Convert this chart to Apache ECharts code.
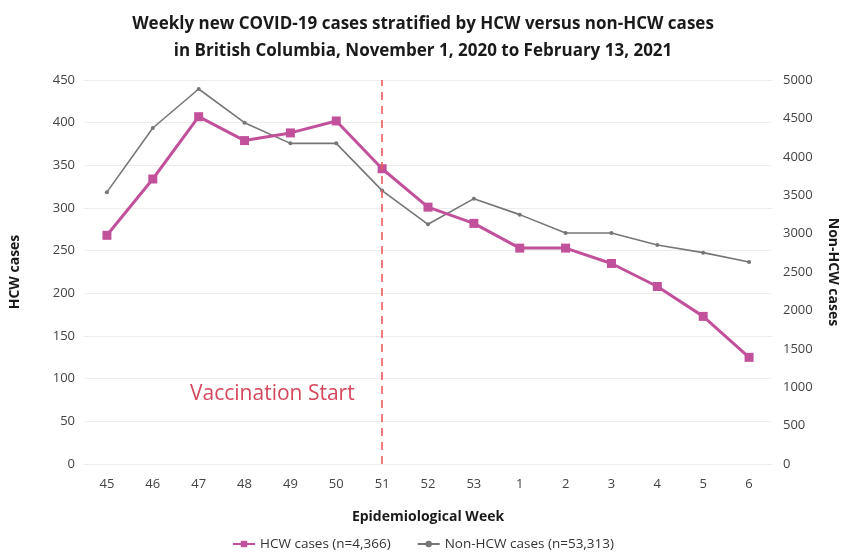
<!DOCTYPE html>
<html>
<head>
<meta charset="utf-8">
<script src="https://cdn.jsdelivr.net/npm/echarts@6/dist/echarts.min.js"></script>
<style>
  html, body { margin: 0; padding: 0; background: #fff; }
  #chart { width: 846px; height: 556px; }
</style>
</head>
<body>
<div id="chart"></div>
<script>
// epidemiological weeks (Nov 1 2020 - Feb 13 2021)
var weeks = ["45", "46", "47", "48", "49", "50", "51", "52", "53", "1", "2", "3", "4", "5", "6"];
var hcwCases = [268, 334, 407, 379, 388, 402, 346, 301, 282, 253, 253, 235, 208, 173, 125];
var nonHcwCases = [3540, 4375, 4883, 4444, 4175, 4175, 3560, 3121, 3455, 3247, 3008, 3008, 2852, 2752, 2630];
var vaccinationWeek = "51";

var narrow = "'Liberation Sans Narrow', 'Open Sans', sans-serif";

var chart = echarts.init(document.getElementById("chart"));
chart.setOption({
  backgroundColor: "#fff",
  animation: false,
  title: {
    text: "Weekly new COVID-19 cases stratified by HCW versus non-HCW cases\nin British Columbia, November 1, 2020 to February 13, 2021",
    left: "center",
    top: 6,
    textStyle: {
      fontFamily: narrow,
      fontSize: 17,
      fontWeight: "bold",
      color: "#1a1a1a",
      lineHeight: 27
    }
  },
  legend: {
    bottom: 0,
    left: "center",
    itemGap: 26,
    itemWidth: 22,
    itemHeight: 8,
    textStyle: { fontFamily: "'Open Sans', sans-serif", fontSize: 13.5, color: "#333" },
    data: ["HCW cases (n=4,366)", "Non-HCW cases (n=53,313)"]
  },
  grid: { left: 84, right: 74, top: 80, bottom: 92, outerBoundsMode: "none", containLabel: false },
  xAxis: {
    type: "category",
    data: weeks,
    boundaryGap: true,
    axisLine: { show: false },
    axisTick: { show: false },
    axisLabel: { color: "#444", fontFamily: narrow, fontSize: 13, margin: 14 },
    name: "Epidemiological Week",
    nameLocation: "middle",
    nameGap: 46,
    nameTextStyle: { fontFamily: narrow, fontSize: 14, fontWeight: "bold", color: "#1a1a1a" }
  },
  yAxis: [
    {
      type: "value",
      min: 0,
      max: 450,
      interval: 50,
      axisLine: { show: false },
      axisTick: { show: false },
      splitLine: { lineStyle: { color: "#ececec", width: 1 } },
      axisLabel: { color: "#444", fontFamily: narrow, fontSize: 13, margin: 9 },
      name: "HCW cases",
      nameLocation: "middle",
      nameGap: 62,
      nameTextStyle: { fontFamily: narrow, fontSize: 14, fontWeight: "bold", color: "#1a1a1a" }
    },
    {
      type: "value",
      position: "right",
      min: 0,
      max: 5000,
      interval: 500,
      axisLine: { show: false },
      axisTick: { show: false },
      splitLine: { show: false },
      axisLabel: {
        color: "#444",
        fontFamily: narrow,
        fontSize: 13,
        margin: 11,
        formatter: function (v) { return String(v); }
      },
      name: "Non-HCW cases",
      nameLocation: "middle",
      nameRotate: -90,
      nameGap: 54,
      nameTextStyle: { fontFamily: narrow, fontSize: 14, fontWeight: "bold", color: "#1a1a1a" }
    }
  ],
  graphic: [
    {
      type: "text",
      left: 190,
      top: 384,
      style: {
        text: "Vaccination Start",
        font: "21px 'Open Sans', sans-serif",
        fill: "#d5475c"
      }
    }
  ],
  series: [
    {
      name: "Non-HCW cases (n=53,313)",
      type: "line",
      yAxisIndex: 1,
      data: nonHcwCases,
      symbol: "circle",
      symbolSize: 4,
      lineStyle: { color: "#767676", width: 1.6 },
      itemStyle: { color: "#767676" }
    },
    {
      name: "HCW cases (n=4,366)",
      type: "line",
      yAxisIndex: 0,
      data: hcwCases,
      symbol: "rect",
      symbolSize: 9,
      z: 3,
      lineStyle: { color: "#c2519b", width: 3 },
      itemStyle: { color: "#c2519b" },
      markLine: {
        silent: true,
        symbol: ["none", "none"],
        label: { show: false },
        lineStyle: { color: "#ef5a5a", type: [8, 6], width: 1.6 },
        data: [{ xAxis: vaccinationWeek }]
      }
    }
  ]
});
</script>
</body>
</html>
